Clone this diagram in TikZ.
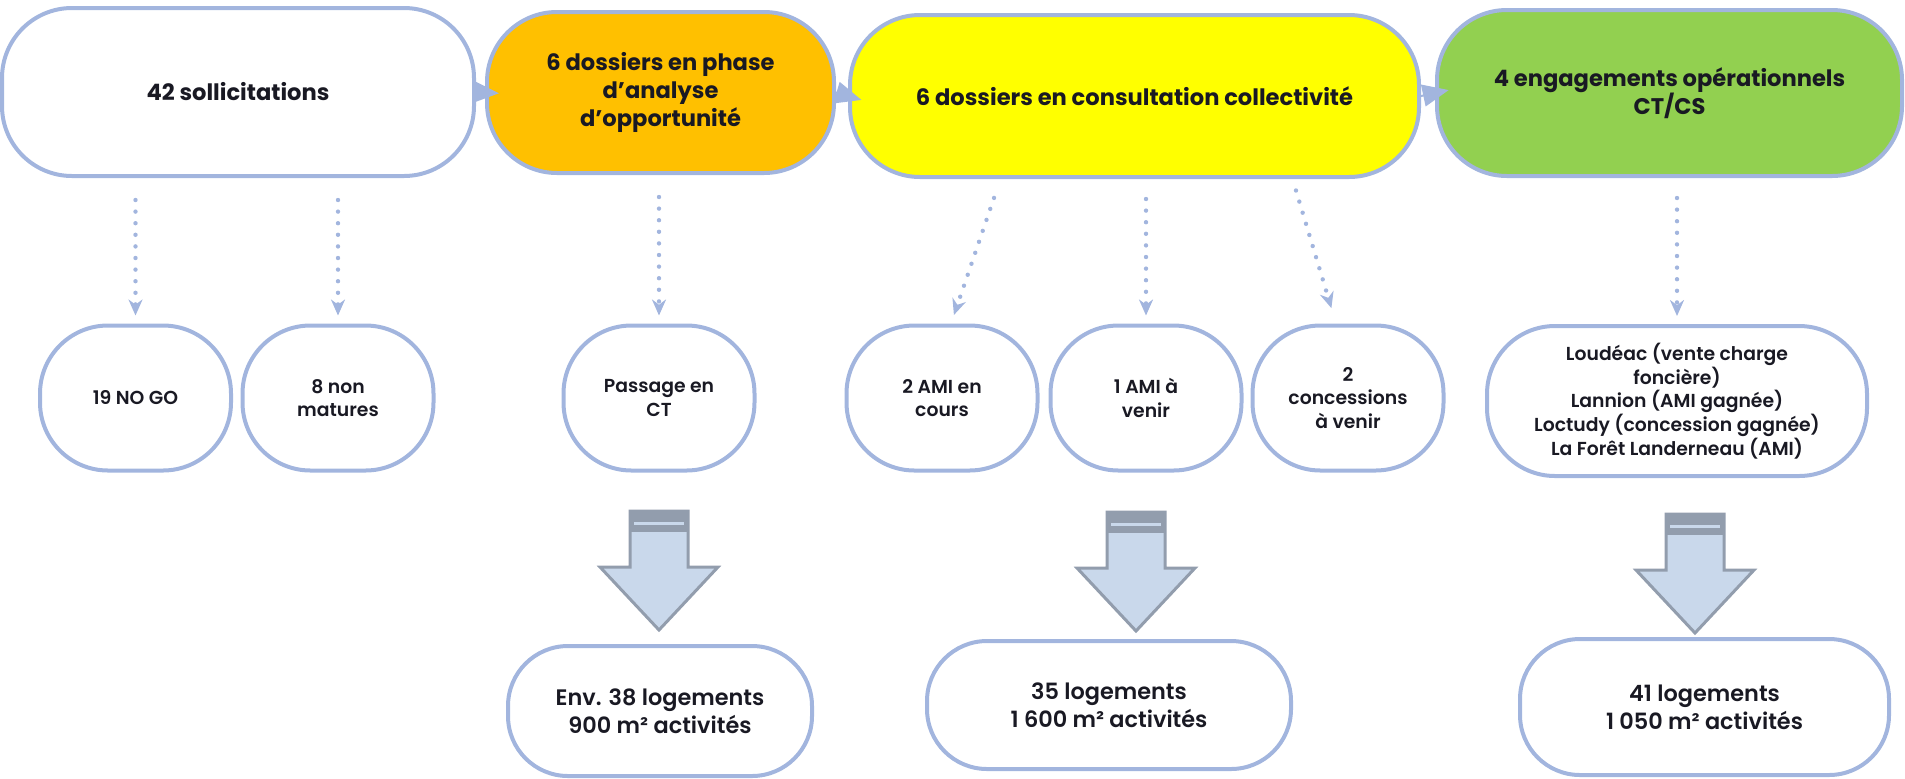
\documentclass[tikz,border=0pt]{standalone}
\usepackage{fontspec}
\setmainfont{Poppins}
\newfontfamily\popm{Poppins Medium}
\newfontfamily\popsb{Poppins SemiBold}
\usepackage{tikz}
\usetikzlibrary{arrows.meta,calc}
\definecolor{edge}{RGB}{162,181,222}
\definecolor{ink}{RGB}{25,25,35}
\definecolor{orangebox}{RGB}{255,192,0}
\definecolor{yellowbox}{RGB}{255,255,0}
\definecolor{greenbox}{RGB}{146,208,80}
\definecolor{blockfill}{RGB}{201,216,235}
\definecolor{blockline}{RGB}{146,157,173}

\tikzset{
  downarr/.pic={
    \fill[blockfill] (-29,0) -- (29,0) -- (29,56) -- (59,56) -- (0,119) -- (-59,56) -- (-29,56) -- cycle;
    \fill[blockline] (-29,0) rectangle (29,21);
    \fill[blockfill] (-25,11) rectangle (25,14);
    \draw[blockline, line width=1.5pt, line join=miter] (-29,0) -- (29,0) -- (29,56) -- (59,56) -- (0,119) -- (-59,56) -- (-29,56) -- cycle;
  }
}

\begin{document}
\begin{tikzpicture}[x=0.5pt, y=-0.5pt,
    top/.style={draw=edge, line width=2pt, rounded corners=35pt, align=center, text=ink, inner sep=0pt, font=\bfseries\fontsize{11.3}{14}\selectfont},
    mid/.style={draw=edge, line width=2pt, rounded corners=34pt, align=center, text=ink, inner sep=0pt, minimum width=95.5pt, minimum height=72.5pt, font=\popsb\fontsize{9.4}{11.8}\selectfont},
    res/.style={draw=edge, line width=2pt, rounded corners=30pt, align=center, text=ink, inner sep=0pt, font=\popsb\fontsize{11.2}{14}\selectfont},
    link/.style={edge, line width=1pt, -{Triangle[length=13pt,width=11pt]}, shorten >=-7pt, shorten <=-1pt},
    dots/.style={edge, line width=2.2pt, line cap=round, dash pattern=on 0pt off 5.8pt, -{Stealth[length=8pt,width=7pt]}}]
  \useasboundingbox (0,0) rectangle (1905,778);

  \node[top, minimum width=236pt, minimum height=84pt] (t1) at (238,92) {42 sollicitations};
  \node[top, fill=orangebox, minimum width=173.5pt, minimum height=80.5pt] (t2) at (660.5,92.5) {6 dossiers en phase\\d’analyse\\d’opportunité};
  \node[top, fill=yellowbox, minimum width=284.5pt, minimum height=81pt] (t3) at (1134.5,96) {6 dossiers en consultation collectivité};
  \node[top, fill=greenbox, minimum width=232.5pt, minimum height=83pt] (t4) at (1669.5,93) {4 engagements opérationnels\\CT/CS};
  \draw[link] (t1.east) -- (t2.west);
  \draw[link] (t2.east) -- (t3.west);
  \draw[link] (t3.east) -- (t4.west);

  \node[mid] (m1) at (135.5,398) {19 NO GO};
  \node[mid] (m2) at (338,398) {8 non\\matures};
  \node[mid] (m3) at (659,398) {Passage en\\CT};
  \node[mid] (m4) at (942,398) {2 AMI en\\cours};
  \node[mid] (m5) at (1146,398) {1 AMI à\\venir};
  \node[mid] (m6) at (1348,398) {2\\concessions\\à venir};
  \node[mid, minimum width=190pt, minimum height=75pt] (m7) at (1677,401) {Loudéac (vente charge\\foncière)\\Lannion (AMI gagnée)\\Loctudy (concession gagnée)\\La Forêt Landerneau (AMI)};

  \draw[dots, shorten <=11pt, shorten >=4pt] (m1 |- t1.south) -- (m1.north);
  \draw[dots, shorten <=11pt, shorten >=4pt] (m2 |- t1.south) -- (m2.north);
  \draw[dots, shorten <=11pt, shorten >=4pt] (m3 |- t2.south) -- (m3.north);
  \draw[dots, shorten <=10pt, shorten >=4.5pt] ([xshift=-67pt]t3.south) -- ([xshift=4.5pt]m4.north);
  \draw[dots, shorten <=10pt, shorten >=4pt] (m5 |- t3.south) -- (m5.north);
  \draw[dots, shorten <=6pt, shorten >=8pt] ([xshift=79pt]t3.south) -- ([xshift=-6pt]m6.north);
  \draw[dots, shorten <=10pt, shorten >=4pt] (m7 |- t4.south) -- (m7.north);

  \pic at (659,511) {downarr};
  \pic at (1136,512) {downarr};
  \pic at (1695,514) {downarr};

  \node[res, minimum width=152pt, minimum height=65pt] (r1) at (660,711) {Env. 38 logements\\900 m² activités};
  \node[res, minimum width=182pt, minimum height=64pt] (r2) at (1109,705) {35 logements\\1 600 m² activités};
  \node[res, minimum width=184.5pt, minimum height=68pt] (r3) at (1704.5,707) {41 logements\\1 050 m² activités};
\end{tikzpicture}
\end{document}
